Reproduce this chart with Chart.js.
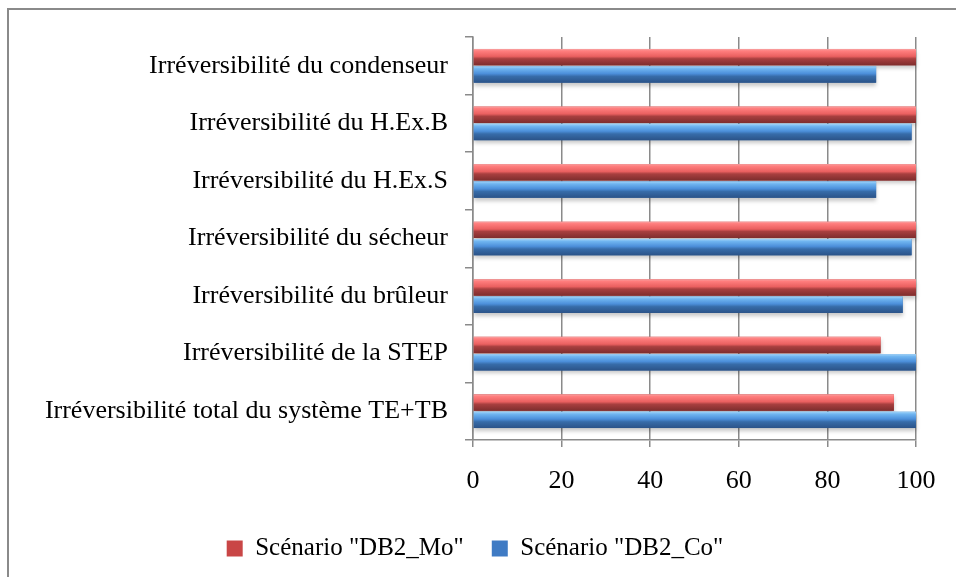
<!DOCTYPE html>
<html>
<head>
<meta charset="utf-8">
<script src="https://cdn.jsdelivr.net/npm/chart.js@4.4.0/dist/chart.umd.min.js"></script>
<style>
html, body { margin: 0; padding: 0; background: #fff; overflow: hidden; }
#wrap { position: relative; width: 956px; height: 577px; }
#frame { position: absolute; left: 7px; top: 8px; width: 1000px; height: 600px;
         border-left: 2px solid #8a8a8a; border-top: 2px solid #8a8a8a; }
canvas { position: absolute; left: 0; top: 0; }
</style>
</head>
<body>
<div id="wrap">
  <div id="frame"></div>
  <canvas id="chart" width="956" height="577"></canvas>
</div>
<script>
const categories = [
    'Irréversibilité du condenseur',
    'Irréversibilité du H.Ex.B',
    'Irréversibilité du H.Ex.S',
    'Irréversibilité du sécheur',
    'Irréversibilité du brûleur',
    'Irréversibilité de la STEP',
    'Irréversibilité total du système TE+TB'
];
const scenarioMo = [100, 100, 100, 100, 100, 92, 95];
const scenarioCo = [91, 99, 91, 99, 97, 100, 100];
const xMin = 0;
const xMax = 100;
const xStep = 20;

const serif = 'Liberation Serif';
const gridGray = '#8a8a8a';

Chart.defaults.font.family = serif;
Chart.defaults.font.size = 26;
Chart.defaults.color = '#000';

/* vertical "glossy" gradients used on top of each bar */
const redShine = [[0, '#f7a3a3'], [0.12, '#ff7e7e'], [0.45, '#ea6060'], [0.6, '#a83f3f'], [1, '#7e2d2d']];
const blueShine = [[0, '#a4d4f8'], [0.15, '#70b5f0'], [0.45, '#4c8fda'], [0.62, '#376ca9'], [1, '#2b5388']];

const barShine = {
    id: 'barShine',
    afterDatasetsDraw(chart) {
        const ctx = chart.ctx;
        const shines = [redShine, blueShine];
        chart.data.datasets.forEach((ds, i) => {
            const meta = chart.getDatasetMeta(i);
            meta.data.forEach(bar => {
                const p = bar.getProps(['x', 'y', 'base', 'height'], true);
                const top = p.y - p.height / 2;
                const g = ctx.createLinearGradient(0, top, 0, top + p.height);
                shines[i].forEach(s => g.addColorStop(s[0], s[1]));
                ctx.save();
                ctx.shadowColor = 'rgba(0,0,0,0.22)';
                ctx.shadowOffsetY = 3;
                ctx.shadowBlur = 4;
                ctx.fillStyle = g;
                ctx.fillRect(p.base, top, p.x - p.base, p.height);
                ctx.restore();
            });
        });
    }
};

// legend in the original sits centred on the whole frame, not on the plot's left part
const legendShift = {
    id: 'legendShift',
    afterLayout(chart) {
        chart.legend.left += 17;
        chart.legend.right += 17;
    }
};

const ctx = document.getElementById('chart').getContext('2d');

const myChart = new Chart(ctx, {
    type: 'bar',
    data: {
        labels: categories,
        datasets: [
            {
                label: 'Scénario "DB2_Mo"',
                data: scenarioMo,
                backgroundColor: '#c94646',
                borderWidth: 0
            },
            {
                label: 'Scénario "DB2_Co"',
                data: scenarioCo,
                backgroundColor: '#3f7bc4',
                borderWidth: 0
            }
        ]
    },
    options: {
        indexAxis: 'y',
        responsive: false,
        animation: false,
        categoryPercentage: 0.6,
        barPercentage: 0.95,
        layout: {
            padding: { left: 0, right: 40, top: 37, bottom: 6 }
        },
        scales: {
            x: {
                min: xMin,
                max: xMax,
                afterFit(scale) { scale.height = 68; },
                ticks: {
                    stepSize: xStep,
                    color: '#000',
                    font: { family: serif, size: 26 },
                    padding: 19
                },
                grid: {
                    color: gridGray,
                    lineWidth: 1.5,
                    tickLength: 7
                },
                border: { color: gridGray, width: 1.5 }
            },
            y: {
                afterFit(scale) { scale.width = 473; },
                ticks: {
                    color: '#000',
                    font: { family: serif, size: 26 },
                    padding: 17
                },
                grid: {
                    drawOnChartArea: false,
                    color: gridGray,
                    lineWidth: 1.5,
                    tickLength: 8
                },
                border: { color: gridGray, width: 1.5 }
            }
        },
        plugins: {
            legend: {
                position: 'bottom',
                labels: {
                    color: '#000',
                    font: { family: serif, size: 25 },
                    boxWidth: 16,
                    boxHeight: 16,
                    padding: 28
                }
            },
            tooltip: { enabled: false }
        }
    },
    plugins: [barShine, legendShift]
});
</script>
</body>
</html>
